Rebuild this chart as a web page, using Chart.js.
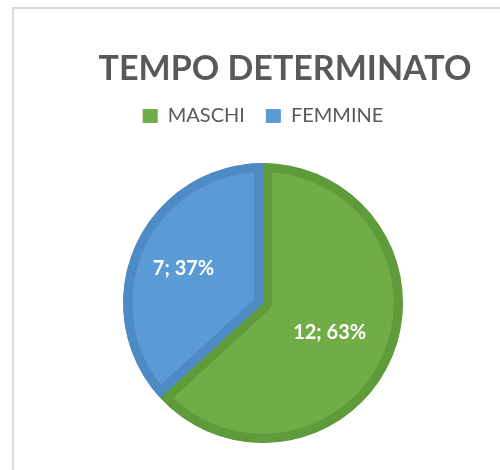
<!DOCTYPE html>
<html>
<head>
<meta charset="utf-8">
<script src="https://cdn.jsdelivr.net/npm/chart.js@4/dist/chart.umd.min.js"></script>
<style>
  html,body{margin:0;padding:0;background:#fff;}
  #wrap{position:relative;width:500px;height:470px;overflow:hidden;}
  #frame{position:absolute;left:12px;top:7px;width:600px;height:600px;border-top:2px solid #d9d9d9;border-left:2px solid #d9d9d9;}
  canvas{position:absolute;left:0;top:0;}
</style>
</head>
<body>
<div id="wrap">
  <div id="frame"></div>
  <canvas id="myChart" width="500" height="470"></canvas>
</div>
<script>
const chartTitle = 'TEMPO DETERMINATO';
const categories = ['MASCHI', 'FEMMINE'];
const values = [12, 7];
const fillColors = ['#70ad47', '#5b9bd5'];
const edgeColors = ['#5f9b3b', '#4e8bc4'];
const labelDist = [0.52, 0.62];

// title drawn a bit right of the legend, like the original
const titlePlugin = {
  id: 'sheetTitle',
  afterDraw(chart){
    const ctx = chart.ctx;
    ctx.save();
    ctx.font = 'bold 34px Lato';
    ctx.fillStyle = '#595959';
    ctx.textAlign = 'center';
    ctx.textBaseline = 'alphabetic';
    ctx.fillText(chartTitle, 285, 80);
    ctx.restore();
  }
};

// "value; percent" labels inside the slices
const sliceLabels = {
  id: 'sliceLabels',
  afterDatasetsDraw(chart){
    const ctx = chart.ctx;
    const meta = chart.getDatasetMeta(0);
    const total = values.reduce((a,b)=>a+b,0);
    ctx.save();
    ctx.font = 'bold 20px Lato';
    ctx.fillStyle = '#ffffff';
    ctx.textAlign = 'center';
    ctx.textBaseline = 'middle';
    meta.data.forEach((arc,i)=>{
      const mid = (arc.startAngle + arc.endAngle)/2;
      const r = arc.outerRadius*labelDist[i];
      const x = arc.x + Math.cos(mid)*r;
      const y = arc.y + Math.sin(mid)*r;
      const pct = Math.round(values[i]/total*100);
      ctx.fillText(values[i]+'; '+pct+'%', x, y);
    });
    ctx.restore();
  }
};

const ctx = document.getElementById('myChart').getContext('2d');
new Chart(ctx, {
  type: 'pie',
  data: {
    labels: categories,
    datasets: [{
      data: values,
      backgroundColor: fillColors,
      borderColor: edgeColors,
      borderWidth: 9,
      borderAlign: 'inner',
      radius: 140
    }]
  },
  options: {
    responsive: false,
    animation: false,
    layout: {
      padding: {top: 85, left: 34, right: 8, bottom: -13}
    },
    plugins: {
      title: {display: false},
      tooltip: {enabled: false},
      legend: {
        display: true,
        position: 'top',
        labels: {
          color: '#595959',
          font: {family: 'Lato', size: 20},
          boxWidth: 15,
          boxHeight: 14,
          padding: 21,
          generateLabels(chart){
            return categories.map((c,i)=>({
              text: c,
              fillStyle: fillColors[i],
              strokeStyle: fillColors[i],
              lineWidth: 0,
              fontColor: '#595959',
              index: i
            }));
          }
        }
      }
    }
  },
  plugins: [titlePlugin, sliceLabels]
});
</script>
</body>
</html>
